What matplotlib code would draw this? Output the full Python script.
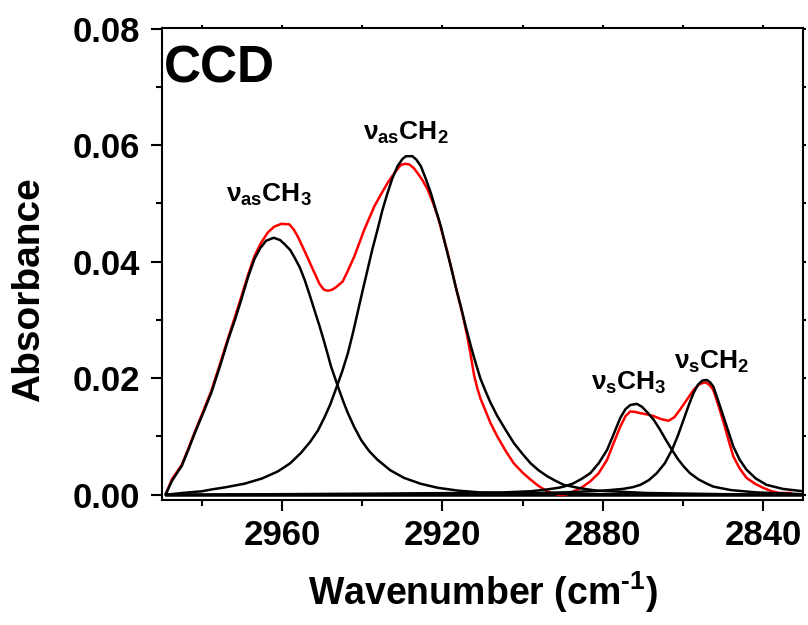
import matplotlib
matplotlib.use("Agg")
import matplotlib.pyplot as plt
from matplotlib.ticker import MultipleLocator

plt.rcParams['font.family'] = ['Liberation Sans', 'DejaVu Sans']
plt.rcParams['font.weight'] = 'bold'
plt.rcParams['mathtext.fontset'] = 'custom'
plt.rcParams['mathtext.rm'] = 'Liberation Sans:bold'
plt.rcParams['mathtext.it'] = 'Liberation Sans:bold'
plt.rcParams['mathtext.bf'] = 'Liberation Sans:bold'
plt.rcParams['mathtext.sf'] = 'Liberation Sans:bold'

# ---- data ----
x_as_ch3 = [2989.0, 2987.5, 2986.0, 2985.1, 2983.5, 2981.8, 2979.8, 2977.7, 2975.6, 2973.5,
            2971.8, 2970.2, 2968.5, 2966.9, 2965.5, 2964.0, 2962.1, 2960.5, 2959.4, 2958.0,
            2956.9, 2955.6, 2954.4, 2953.2, 2952.0, 2950.7, 2949.5, 2948.6, 2947.8, 2946.1,
            2944.8, 2943.6, 2942.0, 2940.3, 2938.3, 2936.2, 2933.0, 2929.6, 2925.5, 2921.2,
            2916.0, 2910.5, 2900.0, 2880.0, 2860.0, 2830.0]
y_as_ch3 = [0.0002, 0.0024, 0.0040, 0.0049, 0.0076, 0.0106, 0.0139, 0.0175, 0.0219, 0.0266,
            0.0300, 0.0335, 0.0374, 0.0405, 0.0423, 0.0436, 0.0441, 0.0437, 0.0430, 0.0420,
            0.0407, 0.0390, 0.0369, 0.0344, 0.0318, 0.0290, 0.0262, 0.0240, 0.0220, 0.0186,
            0.0161, 0.0140, 0.0116, 0.0094, 0.0075, 0.0060, 0.0042, 0.0029, 0.0019, 0.0012,
            0.0007, 0.0004, 0.0002, 0.0001, 0.00005, 0.0]

x_as_ch2 = [2989.0, 2985.0, 2980.0, 2977.7, 2974.0, 2969.4, 2965.0, 2961.1, 2958.0, 2955.3,
            2953.0, 2951.1, 2949.5, 2948.0, 2946.3, 2945.0, 2943.6, 2942.4, 2941.2, 2940.0,
            2938.7, 2937.5, 2936.2, 2935.0, 2933.7, 2932.5, 2931.2, 2930.0, 2929.1, 2927.5,
            2926.5, 2925.4, 2924.2, 2922.9, 2921.7, 2920.4, 2919.2, 2917.9, 2916.7, 2915.4,
            2914.2, 2912.9, 2911.7, 2910.5, 2909.2, 2908.0, 2906.3, 2904.2, 2902.2, 2900.0,
            2898.0, 2896.0, 2893.9, 2891.8, 2889.7, 2885.5, 2881.4, 2875.0, 2869.0, 2850.0,
            2830.0]
y_as_ch2 = [0.0, 0.0003, 0.0006, 0.0009, 0.0013, 0.0019, 0.0028, 0.0040, 0.0054, 0.0072,
            0.0091, 0.0110, 0.0132, 0.0155, 0.0187, 0.0212, 0.0243, 0.0276, 0.0312, 0.0348,
            0.0386, 0.0421, 0.0455, 0.0488, 0.0518, 0.0543, 0.0564, 0.0576, 0.0581, 0.0581,
            0.0575, 0.0564, 0.0543, 0.0518, 0.0490, 0.0461, 0.0427, 0.0392, 0.0357, 0.0323,
            0.0289, 0.0255, 0.0226, 0.0199, 0.0177, 0.0158, 0.0135, 0.0111, 0.0089, 0.0070,
            0.0054, 0.0042, 0.0032, 0.0024, 0.0017, 0.0011, 0.0007, 0.0005, 0.0003, 0.0001,
            0.0]

x_s_ch3 = [2989.0, 2960.0, 2935.0, 2915.0, 2905.0, 2898.0, 2894.0, 2891.0, 2889.7, 2887.5,
           2885.3, 2883.1, 2881.0, 2878.9, 2877.2, 2875.6, 2874.3, 2873.1, 2871.5, 2870.2,
           2868.8, 2867.3, 2865.8, 2864.3, 2862.7, 2861.2, 2859.7, 2858.2, 2856.0, 2854.0,
           2852.4, 2848.0, 2841.6, 2830.0]
y_s_ch3 = [0.0, 0.0001, 0.0002, 0.0003, 0.0004, 0.0006, 0.0009, 0.0012, 0.0014, 0.0019,
           0.0027, 0.0037, 0.0054, 0.0077, 0.0105, 0.0132, 0.0147, 0.0154, 0.0156, 0.0151,
           0.0141, 0.0129, 0.0113, 0.0095, 0.0077, 0.0061, 0.0048, 0.0037, 0.0026, 0.0019,
           0.0014, 0.0008, 0.0004, 0.0001]

x_s_ch2 = [2989.0, 2930.0, 2905.0, 2890.0, 2880.0, 2875.0, 2872.5, 2870.6, 2868.5, 2866.5,
           2864.5, 2862.7, 2861.2, 2859.8, 2858.5, 2857.3, 2856.2, 2855.1, 2854.0, 2853.2,
           2852.4, 2851.2, 2849.9, 2848.6, 2847.4, 2845.8, 2844.1, 2841.8, 2839.1, 2835.0,
           2830.0]
y_s_ch2 = [0.0, 0.0001, 0.0002, 0.0004, 0.0007, 0.0010, 0.0013, 0.0017, 0.0025, 0.0037,
           0.0054, 0.0077, 0.0102, 0.0129, 0.0154, 0.0175, 0.0189, 0.0196, 0.0197, 0.0193,
           0.0186, 0.0162, 0.0135, 0.0108, 0.0083, 0.0060, 0.0043, 0.0028, 0.0017, 0.0010,
           0.0006]

x_meas = [2989.0, 2987.5, 2985.1, 2983.5, 2981.8, 2979.8, 2977.7, 2975.6, 2973.5, 2971.8,
          2970.2, 2968.5, 2966.9, 2965.3, 2963.6, 2962.0, 2960.2, 2958.2, 2957.1, 2956.1,
          2954.8, 2953.6, 2952.1, 2950.7, 2949.6, 2948.6, 2947.5, 2946.6, 2944.9, 2943.5,
          2942.0, 2939.5, 2937.0, 2935.3, 2933.7, 2932.0, 2930.4, 2929.3, 2928.3, 2927.2,
          2926.2, 2925.0, 2923.7, 2922.4, 2921.2, 2920.0, 2918.7, 2917.5, 2916.3, 2915.0,
          2913.8, 2912.9, 2912.1, 2911.3, 2910.5, 2909.6, 2908.0, 2906.3, 2904.2, 2902.2,
          2900.0, 2898.0, 2896.0, 2893.9, 2892.2, 2890.5, 2888.8, 2887.2, 2885.1, 2883.1,
          2881.0, 2878.9, 2877.2, 2875.6, 2874.3, 2873.1, 2871.8, 2870.6, 2869.0, 2867.3,
          2865.5, 2863.6, 2862.1, 2860.7, 2859.0, 2857.3, 2855.8, 2854.4, 2853.4, 2852.4,
          2851.2, 2849.9, 2848.6, 2847.4, 2845.8, 2844.1, 2842.0, 2840.0, 2837.8, 2835.8,
          2833.0]
y_meas = [0.0002, 0.0027, 0.0051, 0.0078, 0.0108, 0.0142, 0.0178, 0.0223, 0.0269, 0.0305,
          0.0340, 0.0378, 0.0410, 0.0432, 0.0450, 0.0460, 0.0465, 0.0464, 0.0455, 0.0443,
          0.0424, 0.0406, 0.0383, 0.0362, 0.0352, 0.0350, 0.0352, 0.0356, 0.0366, 0.0386,
          0.0409, 0.0455, 0.0495, 0.0516, 0.0535, 0.0552, 0.0566, 0.0568, 0.0567, 0.0561,
          0.0552, 0.0540, 0.0524, 0.0502, 0.0478, 0.0448, 0.0415, 0.0381, 0.0346, 0.0310,
          0.0272, 0.0238, 0.0205, 0.0183, 0.0165, 0.0150, 0.0123, 0.0100, 0.0075, 0.0054,
          0.0038, 0.0026, 0.0015, 0.0006, 0.0002, -0.0001, 0.0001, 0.0006, 0.0013, 0.0023,
          0.0037, 0.0060, 0.0090, 0.0117, 0.0135, 0.0143, 0.0142, 0.0140, 0.0138, 0.0135,
          0.0130, 0.0127, 0.0133, 0.0146, 0.0163, 0.0180, 0.0190, 0.0193, 0.0189, 0.0180,
          0.0155, 0.0126, 0.0094, 0.0066, 0.0045, 0.0029, 0.0019, 0.0012, 0.0006, 0.0003,
          0.0003]

x_base = [2989, 2830]
y_base = [0.0, 0.0]

peak_labels = [r'$\nu_{as}\mathrm{CH}_3$', r'$\nu_{as}\mathrm{CH}_2$',
               r'$\nu_{s}\mathrm{CH}_3$', r'$\nu_{s}\mathrm{CH}_2$']
label_x = [2963.2, 2929.1, 2873.6, 2852.7]
label_y = [0.0515, 0.0621, 0.0192, 0.0228]

x_ticks = [2960, 2920, 2880, 2840]
y_ticks = [0.00, 0.02, 0.04, 0.06, 0.08]

# ---- figure ----
fig = plt.figure(figsize=(8.08, 6.25), dpi=100)
ax = fig.add_axes([0.2005, 0.2, 0.7933, 0.7552])

lw = 1.8
ax.plot(x_base, y_base, color='black', lw=lw)
ax.plot(x_meas, y_meas, color='red', lw=lw)
for xs, ys in [(x_as_ch3, y_as_ch3), (x_as_ch2, y_as_ch2), (x_s_ch3, y_s_ch3), (x_s_ch2, y_s_ch2)]:
    ax.plot(xs, ys, color='black', lw=lw)

ax.set_xlim(2990, 2830)
ax.set_ylim(-0.0009, 0.0801)
ax.set_xticks(x_ticks)
ax.set_yticks(y_ticks)
ax.xaxis.set_minor_locator(MultipleLocator(20))
ax.yaxis.set_minor_locator(MultipleLocator(0.01))
ax.set_yticklabels([f'{v:.2f}' for v in y_ticks])

for s in ax.spines.values():
    s.set_linewidth(1.5)
ax.tick_params(axis='both', which='major', direction='out', length=8, width=1.5,
               labelsize=25, pad=6, top=True, right=True)
ax.tick_params(axis='both', which='minor', direction='out', length=4, width=1.5,
               top=True, right=True)
ax.tick_params(axis='y', which='major', pad=8)
for lab in ax.get_xticklabels() + ax.get_yticklabels():
    lab.set_fontweight('bold')
# tiny ticks on the top and right spines
for t in ax.xaxis.get_major_ticks() + ax.xaxis.get_minor_ticks():
    t.tick2line.set_markersize(2)
for t in ax.yaxis.get_major_ticks() + ax.yaxis.get_minor_ticks():
    t.tick2line.set_markersize(2)

ax.set_xlabel(r'Wavenumber (cm$^{\text{-1}}$)', fontsize=27, fontweight='bold', labelpad=12)
ax.set_ylabel('Absorbance', fontsize=28, fontweight='bold')
ax.yaxis.set_label_coords(-0.18, 0.445)

ax.text(0.003, 0.965, 'CCD', transform=ax.transAxes, fontsize=37, fontweight='bold',
        ha='left', va='top')

for t, lx, ly in zip(peak_labels, label_x, label_y):
    ax.text(lx, ly, t, fontsize=19, ha='center', va='center')

fig.savefig('out.png', dpi=100)
